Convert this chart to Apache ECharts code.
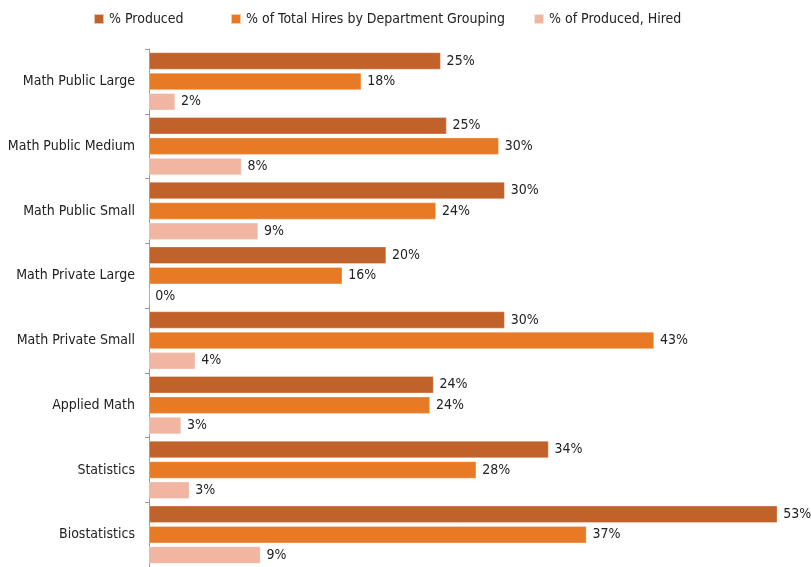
<!DOCTYPE html>
<html>
<head>
<meta charset="utf-8">
<script src="https://cdn.jsdelivr.net/npm/echarts@6/dist/echarts.min.js"></script>
<style>
html,body{margin:0;padding:0;background:#fff;}
#chart{width:811px;height:567px;}
</style>
</head>
<body>
<div id="chart"></div>
<script>
const categories = ["Math Public Large","Math Public Medium","Math Public Small","Math Private Large","Math Private Small","Applied Math","Statistics","Biostatistics"];
const seriesNames = ["% Produced","% of Total Hires by Department Grouping","% of Produced, Hired"];
const produced = [24.6, 25.1, 30.0, 20.0, 30.0, 24.0, 33.7, 53.0];
const totalHires = [17.9, 29.5, 24.2, 16.3, 42.6, 23.7, 27.6, 36.9];
const producedHired = [2.2, 7.8, 9.2, 0, 3.9, 2.7, 3.4, 9.4];
const colors = ["#C1622B", "#E97A25", "#F1B6A2"];

const FONT = '"Liberation Sans Narrow", "DejaVu Sans Condensed", sans-serif';
const chart = echarts.init(document.getElementById('chart'));
const mk = (name, data, color) => ({
  name: name,
  type: 'bar',
  data: data,
  barWidth: 17,
  barGap: '20%',
  itemStyle: {color: color, borderColor: 'rgba(255,255,255,0.6)', borderWidth: 0.5},
  label: {
    show: true, position: 'right', distance: 6,
    formatter: p => Math.round(p.value) + '%',
    color: '#222', fontSize: 14, fontFamily: FONT
  },
  emphasis: {disabled: true},
  animation: false
});
const legendLefts = [88, 225, 528];
const legends = seriesNames.map((n, i) => ({
  top: 7, left: legendLefts[i],
  itemWidth: 10, itemHeight: 10,
  icon: 'rect',
  textStyle: {color: '#222', fontSize: 14, fontFamily: FONT},
  data: [n]
}));
chart.setOption({
  animation: false,
  color: colors,
  legend: legends,
  grid: {left: 149, top: 49, width: 652, height: 520, containLabel: false},
  xAxis: {
    type: 'value', min: 0, max: 55, show: false
  },
  yAxis: {
    type: 'category', data: categories, inverse: true,
    axisLine: {show: true, lineStyle: {color: '#999', width: 1}},
    axisTick: {show: true, length: 4, lineStyle: {color: '#999'}},
    axisLabel: {color: '#222', fontSize: 14, fontFamily: FONT, margin: 14},
    splitLine: {show: false}
  },
  series: [
    mk(seriesNames[0], produced, colors[0]),
    mk(seriesNames[1], totalHires, colors[1]),
    mk(seriesNames[2], producedHired, colors[2])
  ]
});
</script>
</body>
</html>
